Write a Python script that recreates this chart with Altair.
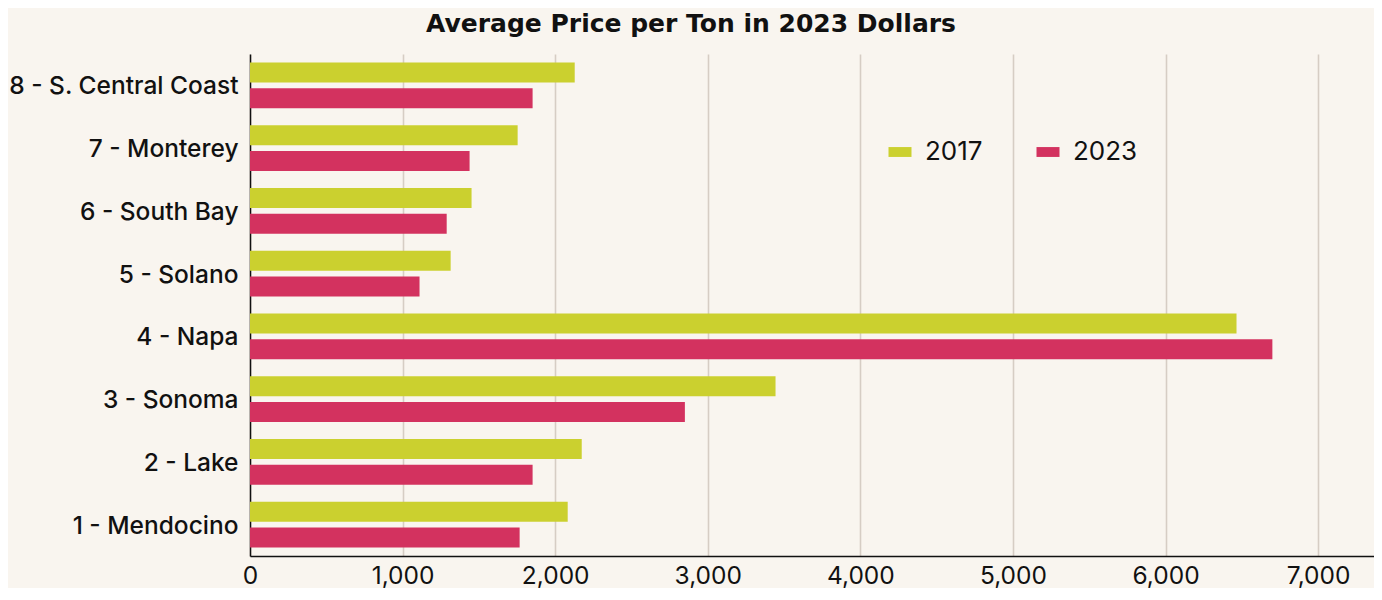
import altair as alt
import pandas as pd

regions = ["8 - S. Central Coast", "7 - Monterey", "6 - South Bay", "5 - Solano",
           "4 - Napa", "3 - Sonoma", "2 - Lake", "1 - Mendocino"]
price_2017 = [2128, 1754, 1452, 1315, 6465, 3444, 2174, 2082]
price_2023 = [1852, 1439, 1289, 1111, 6700, 2850, 1852, 1767]
years = ["2017", "2023"]
colors = ["#CBD02F", "#D3325F"]

rows = []
for r, a, b in zip(regions, price_2017, price_2023):
    rows.append({"region": r, "year": "2017", "price": a})
    rows.append({"region": r, "year": "2023", "price": b})
df = pd.DataFrame(rows)

bars = alt.Chart(df).mark_bar(cornerRadius=0).encode(
    y=alt.Y("region:N", sort=regions, title=None,
            scale=alt.Scale(paddingInner=0.27, paddingOuter=0.135),
            axis=alt.Axis(labelFont="Inter", labelFontSize=24.5, labelFontWeight=500,
                          labelColor="#111111", ticks=False, domainColor="#111111",
                          domainWidth=1.5, labelPadding=12, minExtent=242, maxExtent=242,
                          labelLimit=300, grid=False, labelOffset=2)),
    yOffset=alt.YOffset("year:N", sort=years, scale=alt.Scale(paddingInner=0.23)),
    x=alt.X("price:Q", title=None,
            scale=alt.Scale(domain=[0, 7366], nice=False, zero=True),
            axis=alt.Axis(values=[0, 1000, 2000, 3000, 4000, 5000, 6000, 7000],
                          format=",d", labelFont="Inter", labelFontSize=24.5,
                          labelColor="#111111", ticks=False, domainColor="#111111",
                          domainWidth=1.5, labelPadding=8, grid=True,
                          gridColor="#D6CDC4", gridWidth=1.6, labelFlush=False)),
    color=alt.Color("year:N", sort=years,
                    scale=alt.Scale(domain=years, range=colors),
                    legend=alt.Legend(title=None, orient="none", legendX=637, legendY=85,
                                      direction="horizontal",
                                      symbolType="M-1,-0.43H1V0.43H-1Z", symbolSize=529,
                                      symbolStrokeWidth=0, labelFont="Inter",
                                      labelFontSize=26, labelColor="#111111",
                                      labelOffset=12, columnPadding=52, padding=0)),
)

chart = bars.properties(
    width=1124, height=502,
    background="#F9F5EF",
    padding={"left": 0, "top": 4, "right": 0, "bottom": 0},
    title=alt.TitleParams("Average Price per Ton in 2023 Dollars", font="DejaVu Sans",
                          fontSize=25, fontWeight="bold", color="#111111",
                          anchor="middle", frame="bounds", offset=17),
).configure_view(stroke=None)

chart.save("out.html", embed_options={"renderer": "svg", "actions": False})
